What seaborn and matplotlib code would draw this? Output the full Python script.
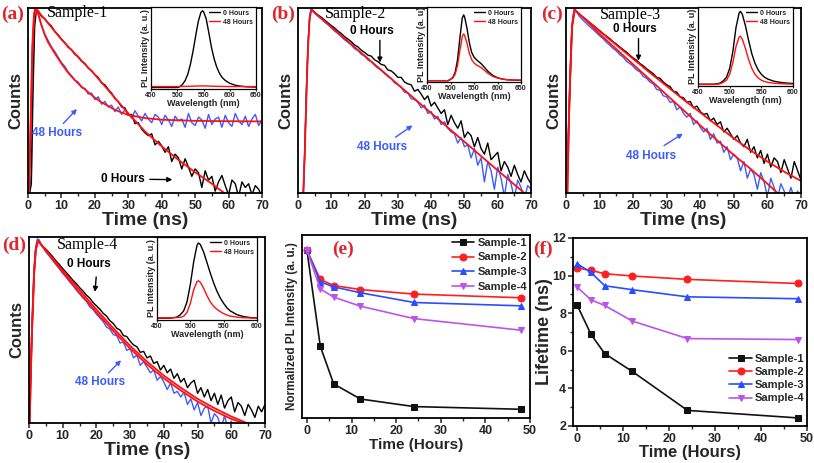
import numpy as np
import pandas as pd
import matplotlib
matplotlib.use('Agg')
import matplotlib.pyplot as plt
import seaborn as sns

sns.set_theme(style='ticks')
plt.rcParams['font.family'] = ['Liberation Sans', 'DejaVu Sans']
plt.rcParams['font.weight'] = 'bold'
plt.rcParams['axes.labelweight'] = 'bold'

W, H = 814, 463

# ---- decay traces (height on the plot, 0..1), time grid in ns ----
t_grid = [0, 1, 1.5, 2, 2.5, 3, 3.5, 4] + list(range(5, 71))

a_black = [-0.05, 0.05, 0.55, 0.90, 0.99, 0.985, 0.97, 0.955,
           0.942, 0.92, 0.902, 0.873, 0.855, 0.832, 0.812, 0.788, 0.775, 0.75,
           0.738, 0.712, 0.70, 0.675, 0.662, 0.64, 0.625, 0.595, 0.585, 0.56,
           0.54, 0.51, 0.495, 0.465, 0.46, 0.42, 0.425, 0.375, 0.38, 0.345,
           0.325, 0.31, 0.32, 0.26, 0.28, 0.255, 0.22, 0.25, 0.17, 0.21,
           0.19, 0.13, 0.185, 0.14, 0.09, 0.13, 0.11, 0.03, 0.12, 0.07,
           0.09, 0.01, 0.06, 0.095, 0.04, -0.01, 0.07, 0.05, -0.02, 0.06,
           0.03, 0.05, -0.01, 0.04, 0.02, -0.02]
a_blue = [-0.05, 0.10, 0.70, 0.98, 1.0, 0.97, 0.94, 0.905,
          0.86, 0.825, 0.79, 0.765, 0.735, 0.705, 0.685, 0.655, 0.635, 0.61,
          0.60, 0.57, 0.565, 0.535, 0.54, 0.505, 0.52, 0.48, 0.495, 0.465,
          0.475, 0.44, 0.465, 0.425, 0.45, 0.43, 0.405, 0.445, 0.415, 0.39,
          0.43, 0.40, 0.38, 0.425, 0.41, 0.37, 0.42, 0.395, 0.36, 0.415,
          0.39, 0.40, 0.355, 0.43, 0.38, 0.365, 0.41, 0.395, 0.35, 0.425,
          0.37, 0.40, 0.41, 0.355, 0.42, 0.38, 0.36, 0.43, 0.39, 0.37,
          0.415, 0.36, 0.40, 0.425, 0.365, 0.395]
fit_a0_t = [0.3, 0.8, 1.3, 1.8, 2.5, 3, 4, 5, 7.5, 10, 15, 20, 25, 30, 35, 40, 45, 50, 55, 58.7]
fit_a0_h = [0.0, 0.35, 0.75, 0.95, 0.99, 0.985, 0.96, 0.94, 0.885, 0.83, 0.735, 0.64, 0.535, 0.43,
            0.333, 0.252, 0.179, 0.112, 0.05, 0.0]
fit_a48_t = [0.3, 0.8, 1.3, 1.8, 2.2, 3, 4, 5, 6, 8, 10, 12, 14, 16, 18, 20, 22, 24, 26, 28, 30,
             35, 40, 50, 60, 70]
fit_a48_h = [0.0, 0.4, 0.8, 0.97, 1.0, 0.97, 0.91, 0.855, 0.815, 0.755, 0.70, 0.65, 0.61, 0.575,
             0.545, 0.515, 0.49, 0.47, 0.45, 0.435, 0.422, 0.405, 0.396, 0.39, 0.388, 0.387]

b_black = [-0.05, -0.05, -0.05, 0.20, 0.55, 0.80, 0.95, 0.995,
           0.978, 0.962, 0.95, 0.935, 0.92, 0.905, 0.892, 0.875, 0.862, 0.845,
           0.832, 0.818, 0.80, 0.79, 0.772, 0.76, 0.745, 0.74, 0.72, 0.71,
           0.695, 0.69, 0.665, 0.66, 0.645, 0.625, 0.625, 0.60, 0.59, 0.585,
           0.55, 0.56, 0.535, 0.505, 0.525, 0.47, 0.49, 0.46, 0.43, 0.45,
           0.37, 0.42, 0.38, 0.35, 0.39, 0.30, 0.33, 0.31, 0.25, 0.30,
           0.24, 0.21, 0.27, 0.18, 0.20, 0.22, 0.12, 0.17, 0.14, 0.09,
           0.15, 0.10, 0.06, 0.12, 0.08, 0.05]
b_blue = [-0.05, -0.05, -0.05, 0.22, 0.52, 0.80, 0.96, 1.0,
          0.972, 0.955, 0.942, 0.924, 0.91, 0.892, 0.875, 0.862, 0.845, 0.828,
          0.815, 0.80, 0.78, 0.77, 0.75, 0.74, 0.72, 0.71, 0.69, 0.675,
          0.665, 0.645, 0.63, 0.62, 0.595, 0.585, 0.57, 0.545, 0.54, 0.51,
          0.505, 0.49, 0.46, 0.475, 0.43, 0.44, 0.40, 0.415, 0.37, 0.385,
          0.35, 0.33, 0.32, 0.27, 0.30, 0.25, 0.26, 0.19, 0.24, 0.15,
          0.19, 0.06, 0.17, 0.12, 0.02, 0.14, 0.08, -0.02, 0.10, 0.05,
          -0.03, 0.07, 0.03, -0.03, 0.04, 0.02]
fit_b_t = [1.6, 2.0, 2.5, 3.0, 3.5, 4.0, 10, 20, 30, 40, 50, 60, 68]
fit_b_h = [0.0, 0.2, 0.5, 0.78, 0.94, 0.99, 0.897, 0.742, 0.587, 0.432, 0.277, 0.122, 0.0]

c_black = [-0.05, 0.45, 0.78, 0.94, 0.99, 0.985, 0.975, 0.965,
           0.952, 0.938, 0.922, 0.908, 0.893, 0.878, 0.862, 0.848, 0.835, 0.818,
           0.805, 0.79, 0.775, 0.762, 0.745, 0.73, 0.718, 0.70, 0.688, 0.672,
           0.658, 0.645, 0.625, 0.62, 0.60, 0.585, 0.575, 0.55, 0.545, 0.52,
           0.515, 0.49, 0.495, 0.46, 0.47, 0.44, 0.425, 0.43, 0.39, 0.405,
           0.37, 0.385, 0.33, 0.35, 0.32, 0.29, 0.31, 0.27, 0.25, 0.29,
           0.22, 0.25, 0.19, 0.23, 0.16, 0.21, 0.14, 0.19, 0.17, 0.11,
           0.18, 0.13, 0.08, 0.17, 0.12, 0.07]
c_blue = [-0.05, 0.50, 0.80, 0.95, 1.0, 0.985, 0.97, 0.955,
          0.935, 0.918, 0.90, 0.885, 0.868, 0.85, 0.835, 0.815, 0.80, 0.782,
          0.768, 0.748, 0.735, 0.712, 0.70, 0.685, 0.665, 0.655, 0.63, 0.62,
          0.60, 0.59, 0.56, 0.555, 0.525, 0.52, 0.49, 0.495, 0.45, 0.465,
          0.43, 0.41, 0.43, 0.37, 0.39, 0.355, 0.33, 0.35, 0.29, 0.32,
          0.27, 0.28, 0.22, 0.25, 0.18, 0.21, 0.19, 0.12, 0.17, 0.08,
          0.13, 0.10, 0.02, 0.11, 0.06, -0.02, 0.08, 0.03, -0.03, 0.05,
          0.01, -0.03, 0.03, -0.03, 0.01, -0.03]
fit_c0_t = [0.4, 1.0, 1.8, 2.6, 5, 10, 15, 20, 25, 30, 35, 40, 45, 50, 55, 60, 65, 70]
fit_c0_h = [0.0, 0.5, 0.9, 0.99, 0.95, 0.875, 0.80, 0.725, 0.65, 0.578, 0.505, 0.435, 0.365,
            0.295, 0.23, 0.17, 0.115, 0.065]
fit_c48_t = [0.4, 1.0, 1.8, 2.6, 5, 10, 20, 30, 40, 50, 55, 60, 63]
fit_c48_h = [0.0, 0.5, 0.9, 0.99, 0.95, 0.86, 0.695, 0.53, 0.365, 0.205, 0.13, 0.05, 0.0]

d_black = [-0.05, 0.55, 0.80, 0.93, 0.975, 0.975, 0.96, 0.95,
           0.935, 0.915, 0.895, 0.872, 0.852, 0.83, 0.81, 0.79, 0.768, 0.75,
           0.728, 0.71, 0.688, 0.672, 0.648, 0.63, 0.612, 0.59, 0.575, 0.55,
           0.535, 0.51, 0.50, 0.47, 0.465, 0.44, 0.42, 0.41, 0.38, 0.385,
           0.35, 0.36, 0.32, 0.33, 0.285, 0.31, 0.27, 0.29, 0.24, 0.265,
           0.22, 0.24, 0.19, 0.215, 0.23, 0.16, 0.19, 0.14, 0.18, 0.12,
           0.16, 0.10, 0.15, 0.08, 0.12, 0.14, 0.06, 0.11, 0.09, 0.04,
           0.10, 0.07, 0.03, 0.09, 0.06, 0.10]
d_blue = [-0.05, 0.60, 0.84, 0.95, 0.99, 0.985, 0.965, 0.95,
          0.92, 0.898, 0.875, 0.852, 0.83, 0.805, 0.785, 0.76, 0.74, 0.715,
          0.695, 0.672, 0.655, 0.625, 0.61, 0.585, 0.565, 0.545, 0.515, 0.505,
          0.475, 0.47, 0.43, 0.435, 0.39, 0.40, 0.35, 0.365, 0.31, 0.33,
          0.30, 0.27, 0.285, 0.23, 0.25, 0.22, 0.18, 0.215, 0.16, 0.17,
          0.14, 0.165, 0.10, 0.13, 0.07, 0.11, 0.04, 0.08, 0.09, 0.0,
          0.05, 0.03, -0.03, 0.04, -0.03, 0.01, -0.03, -0.03, -0.03, -0.03,
          -0.03, -0.03, -0.03, -0.03, -0.03, -0.03]
fit_d0_t = [0.2, 0.8, 1.5, 2.0, 2.7, 5, 10, 15, 20, 25, 30, 35, 40, 45, 50, 55, 60, 64.6]
fit_d0_h = [0.0, 0.45, 0.8, 0.93, 0.98, 0.93, 0.82, 0.715, 0.61, 0.51, 0.415, 0.33, 0.255, 0.19,
            0.13, 0.08, 0.035, 0.0]
fit_d48_t = [0.2, 0.8, 1.5, 2.0, 2.7, 5, 10, 15, 20, 25, 30, 35, 40, 45, 50, 55, 60, 63.5]
fit_d48_h = [0.0, 0.45, 0.8, 0.93, 0.98, 0.925, 0.81, 0.70, 0.595, 0.495, 0.40, 0.315, 0.24,
             0.175, 0.115, 0.065, 0.022, 0.0]

# ---- PL spectra for insets ----
wl_a = [450, 480, 500, 505, 510, 515, 520, 525, 530, 535, 540, 545, 548, 550, 555, 560, 565,
        570, 575, 580, 585, 590, 595, 600, 610, 620, 630, 650]
pl_a0 = [0, 0, 0, 0.01, 0.04, 0.09, 0.17, 0.30, 0.47, 0.67, 0.86, 0.98, 1.0, 0.99, 0.90, 0.72,
         0.53, 0.38, 0.27, 0.19, 0.135, 0.10, 0.075, 0.055, 0.03, 0.018, 0.01, 0.005]
pl_a48 = [0.012, 0.012, 0.012, 0.012, 0.013, 0.014, 0.015, 0.016, 0.017, 0.018, 0.019, 0.02,
          0.02, 0.02, 0.019, 0.018, 0.017, 0.016, 0.015, 0.014, 0.013, 0.013, 0.012, 0.012,
          0.012, 0.012, 0.012, 0.012]

wl_b = [450, 495, 500, 505, 510, 515, 520, 525, 528, 530, 535, 540, 545, 550, 555, 560, 565,
        570, 575, 580, 590, 600, 610, 620, 635, 650]
pl_b0 = [0, 0, 0.02, 0.05, 0.13, 0.32, 0.65, 0.95, 1.0, 0.97, 0.80, 0.58, 0.43, 0.36, 0.32,
         0.29, 0.26, 0.22, 0.18, 0.14, 0.08, 0.045, 0.025, 0.015, 0.008, 0.005]
pl_b48 = [0, 0, 0.02, 0.04, 0.10, 0.23, 0.46, 0.67, 0.71, 0.69, 0.57, 0.42, 0.32, 0.27, 0.24,
          0.22, 0.20, 0.17, 0.14, 0.11, 0.065, 0.04, 0.025, 0.015, 0.01, 0.008]

wl_c = [450, 475, 480, 485, 490, 495, 500, 505, 510, 515, 517, 520, 525, 530, 535, 540, 545,
        550, 555, 560, 570, 580, 590, 600]
pl_c0 = [0.005, 0.005, 0.01, 0.02, 0.05, 0.10, 0.22, 0.45, 0.78, 0.98, 1.0, 0.96, 0.80, 0.60,
         0.42, 0.29, 0.20, 0.14, 0.10, 0.075, 0.045, 0.03, 0.02, 0.015]
pl_c48 = [0.0, 0.0, 0.005, 0.01, 0.03, 0.06, 0.14, 0.30, 0.52, 0.65, 0.66, 0.62, 0.49, 0.34,
          0.22, 0.14, 0.09, 0.06, 0.04, 0.03, 0.018, 0.012, 0.008, 0.006]

wl_d = [450, 470, 475, 480, 485, 490, 495, 500, 505, 510, 512, 515, 520, 525, 530, 535, 540,
        545, 550, 555, 560, 570, 580, 590, 600]
pl_d0 = [0.005, 0.005, 0.01, 0.02, 0.05, 0.10, 0.22, 0.45, 0.75, 0.97, 1.0, 0.98, 0.88, 0.74,
         0.60, 0.47, 0.36, 0.27, 0.20, 0.14, 0.10, 0.05, 0.025, 0.012, 0.008]
pl_d48 = [0.01, 0.01, 0.01, 0.012, 0.015, 0.03, 0.08, 0.20, 0.38, 0.49, 0.50, 0.48, 0.40, 0.30,
          0.22, 0.16, 0.12, 0.09, 0.065, 0.045, 0.03, 0.018, 0.01, 0.007, 0.005]

# ---- panels (e) and (f) ----
hours = [0, 3, 6, 12, 24, 48]
samples = ['Sample-1', 'Sample-2', 'Sample-3', 'Sample-4']
pl_norm = {
    'Sample-1': [1.0, 0.427, 0.203, 0.113, 0.068, 0.052],
    'Sample-2': [1.0, 0.825, 0.789, 0.765, 0.738, 0.716],
    'Sample-3': [1.0, 0.811, 0.781, 0.746, 0.688, 0.668],
    'Sample-4': [1.0, 0.769, 0.720, 0.666, 0.592, 0.523],
}
lifetime = {
    'Sample-1': [8.43, 6.88, 5.85, 4.90, 2.83, 2.43],
    'Sample-2': [10.40, 10.28, 10.10, 9.98, 9.80, 9.58],
    'Sample-3': [10.63, 10.17, 9.46, 9.25, 8.87, 8.77],
    'Sample-4': [9.39, 8.71, 8.41, 7.58, 6.65, 6.60],
}
s_colors = {'Sample-1': '#111111', 'Sample-2': '#ff1f1f', 'Sample-3': '#2b4cff', 'Sample-4': '#bb55e6'}
s_markers = {'Sample-1': 's', 'Sample-2': 'o', 'Sample-3': '^', 'Sample-4': 'v'}

BLUE = '#3d5cff'
RED = '#ff1010'
PANEL_RED = '#e3232b'

fig = plt.figure(figsize=(W / 100, H / 100), dpi=100)


def px_axes(l, t, r, b):
    return fig.add_axes([l / W, 1 - b / H, (r - l) / W, (b - t) / H])


def line(ax, x, y, color, lw, **kw):
    sns.lineplot(x=x, y=y, ax=ax, color=color, lw=lw, sort=False, estimator=None,
                 errorbar=None, **kw)


def frame(ax, lw=1.3):
    for s in ax.spines.values():
        s.set_linewidth(lw)
        s.set_color('black')


def decay_axes(box):
    ax = px_axes(*box)
    ax.set_xlim(0, 70)
    ax.set_ylim(0, 1)
    ax.set_xticks(range(0, 71, 10))
    ax.set_xticks(range(5, 70, 10), minor=True)
    ax.set_yticks([])
    ax.tick_params(axis='x', which='major', direction='out', length=3.5, width=1.1,
                   labelsize=9, pad=1.5)
    ax.tick_params(axis='x', which='minor', direction='out', length=2, width=1)
    for lab in ax.get_xticklabels():
        lab.set_fontweight('bold')
    ax.set_xlabel('Time (ns)', fontsize=14, labelpad=0)
    ax.set_ylabel('Counts', fontsize=12, labelpad=3)
    frame(ax)
    return ax


def inset(box, wl, s0, s48, xmax, ylab, ytop):
    ax = px_axes(*box)
    line(ax, wl, s0, 'black', 1.0, label='0 Hours')
    line(ax, wl, s48, RED, 1.0, label='48 Hours')
    ax.set_xlim(450, xmax)
    ax.set_ylim(-0.02, ytop)
    ax.set_xticks(range(450, xmax + 1, 50))
    ax.set_yticks([])
    ax.tick_params(axis='x', direction='out', length=1.5, width=0.8, labelsize=5, pad=0.8)
    for lab in ax.get_xticklabels():
        lab.set_fontweight('bold')
    ax.set_xlabel('Wavelength (nm)', fontsize=6.5, labelpad=0)
    ax.set_ylabel(ylab, fontsize=6.5, labelpad=1)
    ax.legend(loc='upper right', frameon=False, prop={'size': 5, 'weight': 'bold'},
              handlelength=1.6, handletextpad=0.4, labelspacing=0.25, borderpad=0.2,
              borderaxespad=0.2)
    frame(ax, 0.9)
    return ax


def arrow(ax, start, end, color):
    ax.annotate('', xy=end, xytext=start,
                arrowprops=dict(arrowstyle='-|>', color=color, lw=1.0, mutation_scale=7))


def hours_label(ax, x, y, s, color):
    ax.text(x, y, s, color=color, fontsize=8.5, fontweight='bold', ha='center', va='center')


def sample_label(x, y, s):
    fig.text(x / W, 1 - y / H, s, fontsize=11.5, family=['Liberation Serif', 'DejaVu Serif'],
             fontweight='normal', ha='center', va='center', color='black')


def panel_label(x, y, s):
    fig.text(x / W, 1 - y / H, s, fontsize=14, family=['Liberation Serif', 'DejaVu Serif'],
             fontweight='bold', ha='center', va='center', color=PANEL_RED)


# (a)
ax = decay_axes((28, 8, 262, 193))
line(ax, t_grid, a_blue, BLUE, 1.0)
line(ax, t_grid, a_black, 'black', 1.0)
line(ax, fit_a0_t, fit_a0_h, RED, 1.3)
line(ax, fit_a48_t, fit_a48_h, RED, 1.3)
hours_label(ax, 8.7, 0.325, '48 Hours', BLUE)
arrow(ax, (10.0, 0.365), (15.2, 0.465), BLUE)
hours_label(ax, 28.3, 0.076, '0 Hours', 'black')
arrow(ax, (35.6, 0.074), (44.0, 0.072), 'black')
inset((151, 7, 256, 89), wl_a, pl_a0, pl_a48, 650, 'PL Intensity (a. u.)', 1.05)

# (b)
ax = decay_axes((298, 8, 531, 193))
line(ax, t_grid, b_black, 'black', 1.0)
line(ax, t_grid, b_blue, BLUE, 1.0)
line(ax, fit_b_t, fit_b_h, RED, 1.3)
hours_label(ax, 22.3, 0.874, '0 Hours', 'black')
arrow(ax, (24.6, 0.84), (24.6, 0.69), 'black')
hours_label(ax, 25.3, 0.248, '48 Hours', BLUE)
arrow(ax, (28.6, 0.293), (35.1, 0.374), BLUE)
inset((427, 7, 521, 82), wl_b, pl_b0, pl_b48, 650, 'PL Intensity (a. u)', 1.12)

# (c)
ax = decay_axes((566, 8, 801, 193))
line(ax, t_grid, c_black, 'black', 1.0)
line(ax, t_grid, c_blue, BLUE, 1.0)
line(ax, fit_c0_t, fit_c0_h, RED, 1.3)
line(ax, fit_c48_t, fit_c48_h, RED, 1.3)
hours_label(ax, 20.4, 0.887, '0 Hours', 'black')
arrow(ax, (21.6, 0.85), (21.6, 0.70), 'black')
hours_label(ax, 25.4, 0.20, '48 Hours', BLUE)
arrow(ax, (28.5, 0.248), (35.5, 0.329), BLUE)
inset((698, 7, 793, 86), wl_c, pl_c0, pl_c48, 600, 'PL Intensity (a. u)', 1.06)

# (d)
ax = decay_axes((29, 237, 265, 423))
line(ax, t_grid, d_black, 'black', 1.0)
line(ax, t_grid, d_blue, BLUE, 1.0)
line(ax, fit_d0_t, fit_d0_h, RED, 1.3)
line(ax, fit_d48_t, fit_d48_h, RED, 1.3)
hours_label(ax, 17.8, 0.857, '0 Hours', 'black')
arrow(ax, (20.0, 0.80), (19.5, 0.69), 'black')
hours_label(ax, 21.0, 0.218, '48 Hours', BLUE)
arrow(ax, (23.0, 0.259), (27.9, 0.348), BLUE)
inset((157, 237, 257, 320), wl_d, pl_d0, pl_d48, 600, 'PL Intensity (a. u.)', 1.08)

# (e)
ax = px_axes(302, 235, 530, 418)
for s in samples:
    line(ax, hours, pl_norm[s], s_colors[s], 1.2, marker=s_markers[s], markersize=5,
         markeredgecolor=s_colors[s], label=s)
ax.set_xlim(-1.1, 50)
ax.set_ylim(0, 1.09)
ax.set_xticks(range(0, 51, 10))
ax.set_xticks(range(5, 50, 10), minor=True)
ax.set_yticks([])
ax.tick_params(axis='x', which='major', direction='out', length=3.5, width=1.1, labelsize=9, pad=1.5)
ax.tick_params(axis='x', which='minor', direction='out', length=2, width=1)
for lab in ax.get_xticklabels():
    lab.set_fontweight('bold')
ax.set_xlabel('Time (Hours)', fontsize=11, labelpad=1)
ax.set_ylabel('Normalized PL Intensity (a. u.)', fontsize=8.5, labelpad=3)
ax.legend(loc='upper right', frameon=False, prop={'size': 8, 'weight': 'bold'},
          handlelength=2.0, handletextpad=0.3, labelspacing=0.42, borderpad=0.1,
          borderaxespad=0.15)
frame(ax)

# (f)
ax = px_axes(573, 238, 807, 426)
for s in samples:
    line(ax, hours, lifetime[s], s_colors[s], 1.2, marker=s_markers[s], markersize=5,
         markeredgecolor=s_colors[s], label=s)
ax.set_xlim(-0.9, 50)
ax.set_ylim(2, 12)
ax.set_xticks(range(0, 51, 10))
ax.set_xticks(range(5, 50, 10), minor=True)
ax.set_yticks(range(2, 13, 2))
ax.set_yticks(range(3, 12, 2), minor=True)
ax.tick_params(which='major', direction='out', length=3.5, width=1.1, labelsize=9, pad=1.5)
ax.tick_params(which='minor', direction='out', length=2, width=1)
for lab in ax.get_xticklabels() + ax.get_yticklabels():
    lab.set_fontweight('bold')
ax.set_xlabel('Time (Hours)', fontsize=12, labelpad=0)
ax.set_ylabel('Lifetime (ns)', fontsize=13, labelpad=-1)
ax.legend(loc='lower right', bbox_to_anchor=(0.99, 0.12), frameon=False,
          prop={'size': 8, 'weight': 'bold'}, handlelength=2.0, handletextpad=0.3,
          labelspacing=0.28, borderpad=0.0, borderaxespad=0.0)
frame(ax)

# panel and sample labels
panel_label(13, 14, '(a)')
panel_label(283, 14, '(b)')
panel_label(552, 14, '(c)')
panel_label(14, 245, '(d)')
panel_label(343, 249, '(e)')
panel_label(543, 249, '(f)')
sample_label(78, 13, 'Sample-1')
sample_label(355, 14, 'Sample-2')
sample_label(630, 15, 'Sample-3')
sample_label(88, 245, 'Sample-4')

fig.savefig('out.png', dpi=100)
